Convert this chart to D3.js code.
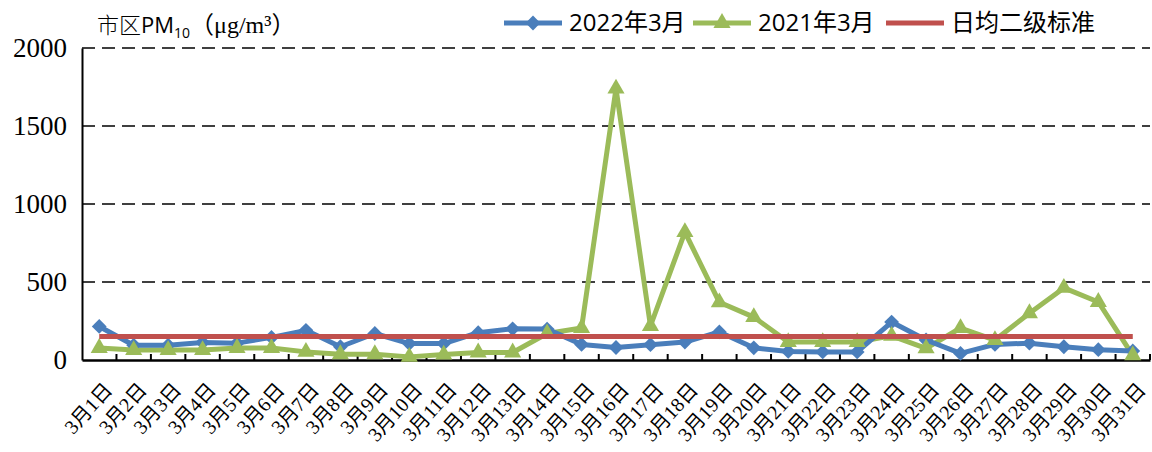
<!DOCTYPE html>
<html>
<head>
<meta charset="utf-8">
<script src="https://cdn.jsdelivr.net/npm/d3@7"></script>
<style>
  body { margin: 0; background: #fff; }
  svg { display: block; }
</style>
</head>
<body>
<div class="chart"></div>
<script>
// data
var days = [];
for (var i = 1; i <= 31; i++) days.push("3月" + i + "日");

var pm2022 = [215, 95, 95, 112, 108, 145, 190, 85, 170, 105, 105, 175, 200, 198, 100, 80, 98, 115, 180, 78,
  55, 52, 52, 243, 128, 42, 100, 108, 85, 66, 58];
var pm2021 = [77, 64, 64, 64, 77, 77, 52, 37, 37, 20, 35, 48, 48, 170, 205, 1740, 218, 820, 370, 275,
  115, 115, 115, 155, 75, 205, 128, 300, 462, 372, 30];
var standard = 150;
var yTicks = [0, 500, 1000, 1500, 2000];

var serif = "'Liberation Serif', 'Noto Sans CJK SC', serif";

var width = 1152, height = 452;
var margin = { top: 48, right: 2, bottom: 92, left: 82 };

var svg = d3.select(".chart").append("svg")
  .attr("width", width)
  .attr("height", height);

var x = d3.scaleBand()
  .domain(days)
  .range([margin.left, width - margin.right]);

var y = d3.scaleLinear()
  .domain([0, 2000])
  .range([height - margin.bottom, margin.top]);

// gridlines dashed
svg.append("g")
  .selectAll("line")
  .data(yTicks.filter(function(d) { return d > 0; }))
  .enter().append("line")
  .attr("x1", margin.left)
  .attr("x2", width - margin.right)
  .attr("y1", function(d) { return y(d); })
  .attr("y2", function(d) { return y(d); })
  .attr("stroke", "#000")
  .attr("stroke-width", 1.5)
  .attr("stroke-dasharray", "13,7");

// y axis
var yAxis = svg.append("g")
  .attr("transform", "translate(" + margin.left + ",0)")
  .call(d3.axisLeft(y).tickValues(yTicks).tickSize(0).tickPadding(15).tickFormat(d3.format("d")));
yAxis.select(".domain").attr("stroke", "#000").attr("stroke-width", 2);
yAxis.selectAll("text")
  .style("font-family", serif)
  .style("font-size", "27px")
  .attr("fill", "#000");

// x axis with inner ticks
var xAxis = svg.append("g")
  .attr("transform", "translate(0," + y(0) + ")")
  .call(d3.axisBottom(x).tickSize(0).tickFormat(""));
xAxis.select(".domain").attr("stroke", "#000").attr("stroke-width", 2.5);
xAxis.selectAll(".tick").remove();

svg.append("g")
  .selectAll("line")
  .data(days)
  .enter().append("line")
  .attr("x1", function(d) { return x(d) + x.bandwidth(); })
  .attr("x2", function(d) { return x(d) + x.bandwidth(); })
  .attr("y1", y(0))
  .attr("y2", y(0) - 6)
  .attr("stroke", "#000")
  .attr("stroke-width", 2);

// x labels rotated
svg.append("g")
  .selectAll("text")
  .data(days)
  .enter().append("text")
  .attr("transform", function(d) {
    return "translate(" + (x(d) + x.bandwidth() / 2 + 9) + "," + (y(0) + 26) + ") rotate(-48)";
  })
  .attr("text-anchor", "end")
  .attr("dy", "0.35em")
  .style("font-family", serif)
  .style("font-size", "20px")
  .attr("fill", "#000")
  .text(function(d) { return d; });

var cx = function(d, i) { return x(days[i]) + x.bandwidth() / 2; };

var line = d3.line()
  .x(function(d, i) { return x(days[i]) + x.bandwidth() / 2; })
  .y(function(d) { return y(d); });

// 2021 series (green)
svg.append("path")
  .datum(pm2021)
  .attr("fill", "none")
  .attr("stroke", "#9BBB59")
  .attr("stroke-width", 5)
  .attr("stroke-linejoin", "round")
  .attr("d", line);

// 2022 series (blue)
svg.append("path")
  .datum(pm2022)
  .attr("fill", "none")
  .attr("stroke", "#4A7EBB")
  .attr("stroke-width", 5)
  .attr("stroke-linejoin", "round")
  .attr("d", line);

var diamond = d3.symbol().type(d3.symbolDiamond2).size(140);
var triangle = d3.symbol().type(d3.symbolTriangle2).size(210);

svg.append("g")
  .selectAll("path")
  .data(pm2022)
  .enter().append("path")
  .attr("d", diamond)
  .attr("transform", function(d, i) { return "translate(" + cx(d, i) + "," + y(d) + ")"; })
  .attr("fill", "#4A7EBB");

svg.append("g")
  .selectAll("path")
  .data(pm2021)
  .enter().append("path")
  .attr("d", triangle)
  .attr("transform", function(d, i) { return "translate(" + cx(d, i) + "," + y(d) + ")"; })
  .attr("fill", "#9BBB59");

// standard line (red)
svg.append("line")
  .attr("x1", cx(0, 0))
  .attr("x2", cx(0, days.length - 1))
  .attr("y1", y(standard))
  .attr("y2", y(standard))
  .attr("stroke", "#C0504D")
  .attr("stroke-width", 5);

// title
var title = svg.append("text")
  .attr("x", 97)
  .attr("y", 33)
  .style("font-size", "22px")
  .attr("fill", "#000");
title.append("tspan").style("font-family", "'Noto Sans CJK SC', sans-serif").style("font-weight", "300").text("市区");
title.append("tspan").style("font-family", "'Open Sans', 'Liberation Sans', sans-serif").text("PM");
title.append("tspan").style("font-family", "'Open Sans', sans-serif").style("font-size", "14px").attr("dy", 5).text("10");
title.append("tspan").style("font-family", serif).style("font-size", "24px").attr("dy", -5).text("（μg/m³）");

// legend
var legend = [
  { name: "2022年3月", color: "#4A7EBB", sym: "diamond", x: 504 },
  { name: "2021年3月", color: "#9BBB59", sym: "triangle", x: 693 },
  { name: "日均二级标准", color: "#C0504D", sym: null, x: 886 }
];
var lg = svg.append("g").selectAll("g").data(legend).enter().append("g")
  .attr("transform", function(d) { return "translate(" + d.x + ",23)"; });
lg.append("line")
  .attr("x1", 0).attr("x2", 58)
  .attr("stroke", function(d) { return d.color; })
  .attr("stroke-width", 5);
lg.filter(function(d) { return d.sym; }).append("path")
  .attr("d", function(d) { return d.sym === "diamond" ? diamond() : triangle(); })
  .attr("transform", "translate(29,0)")
  .attr("fill", function(d) { return d.color; });
lg.append("text")
  .attr("x", 65)
  .attr("dy", "0.35em")
  .style("font-family", "'Open Sans', 'Noto Sans CJK SC', sans-serif")
  .style("font-size", "24px")
  .attr("fill", "#000")
  .text(function(d) { return d.name; });
</script>
</body>
</html>
